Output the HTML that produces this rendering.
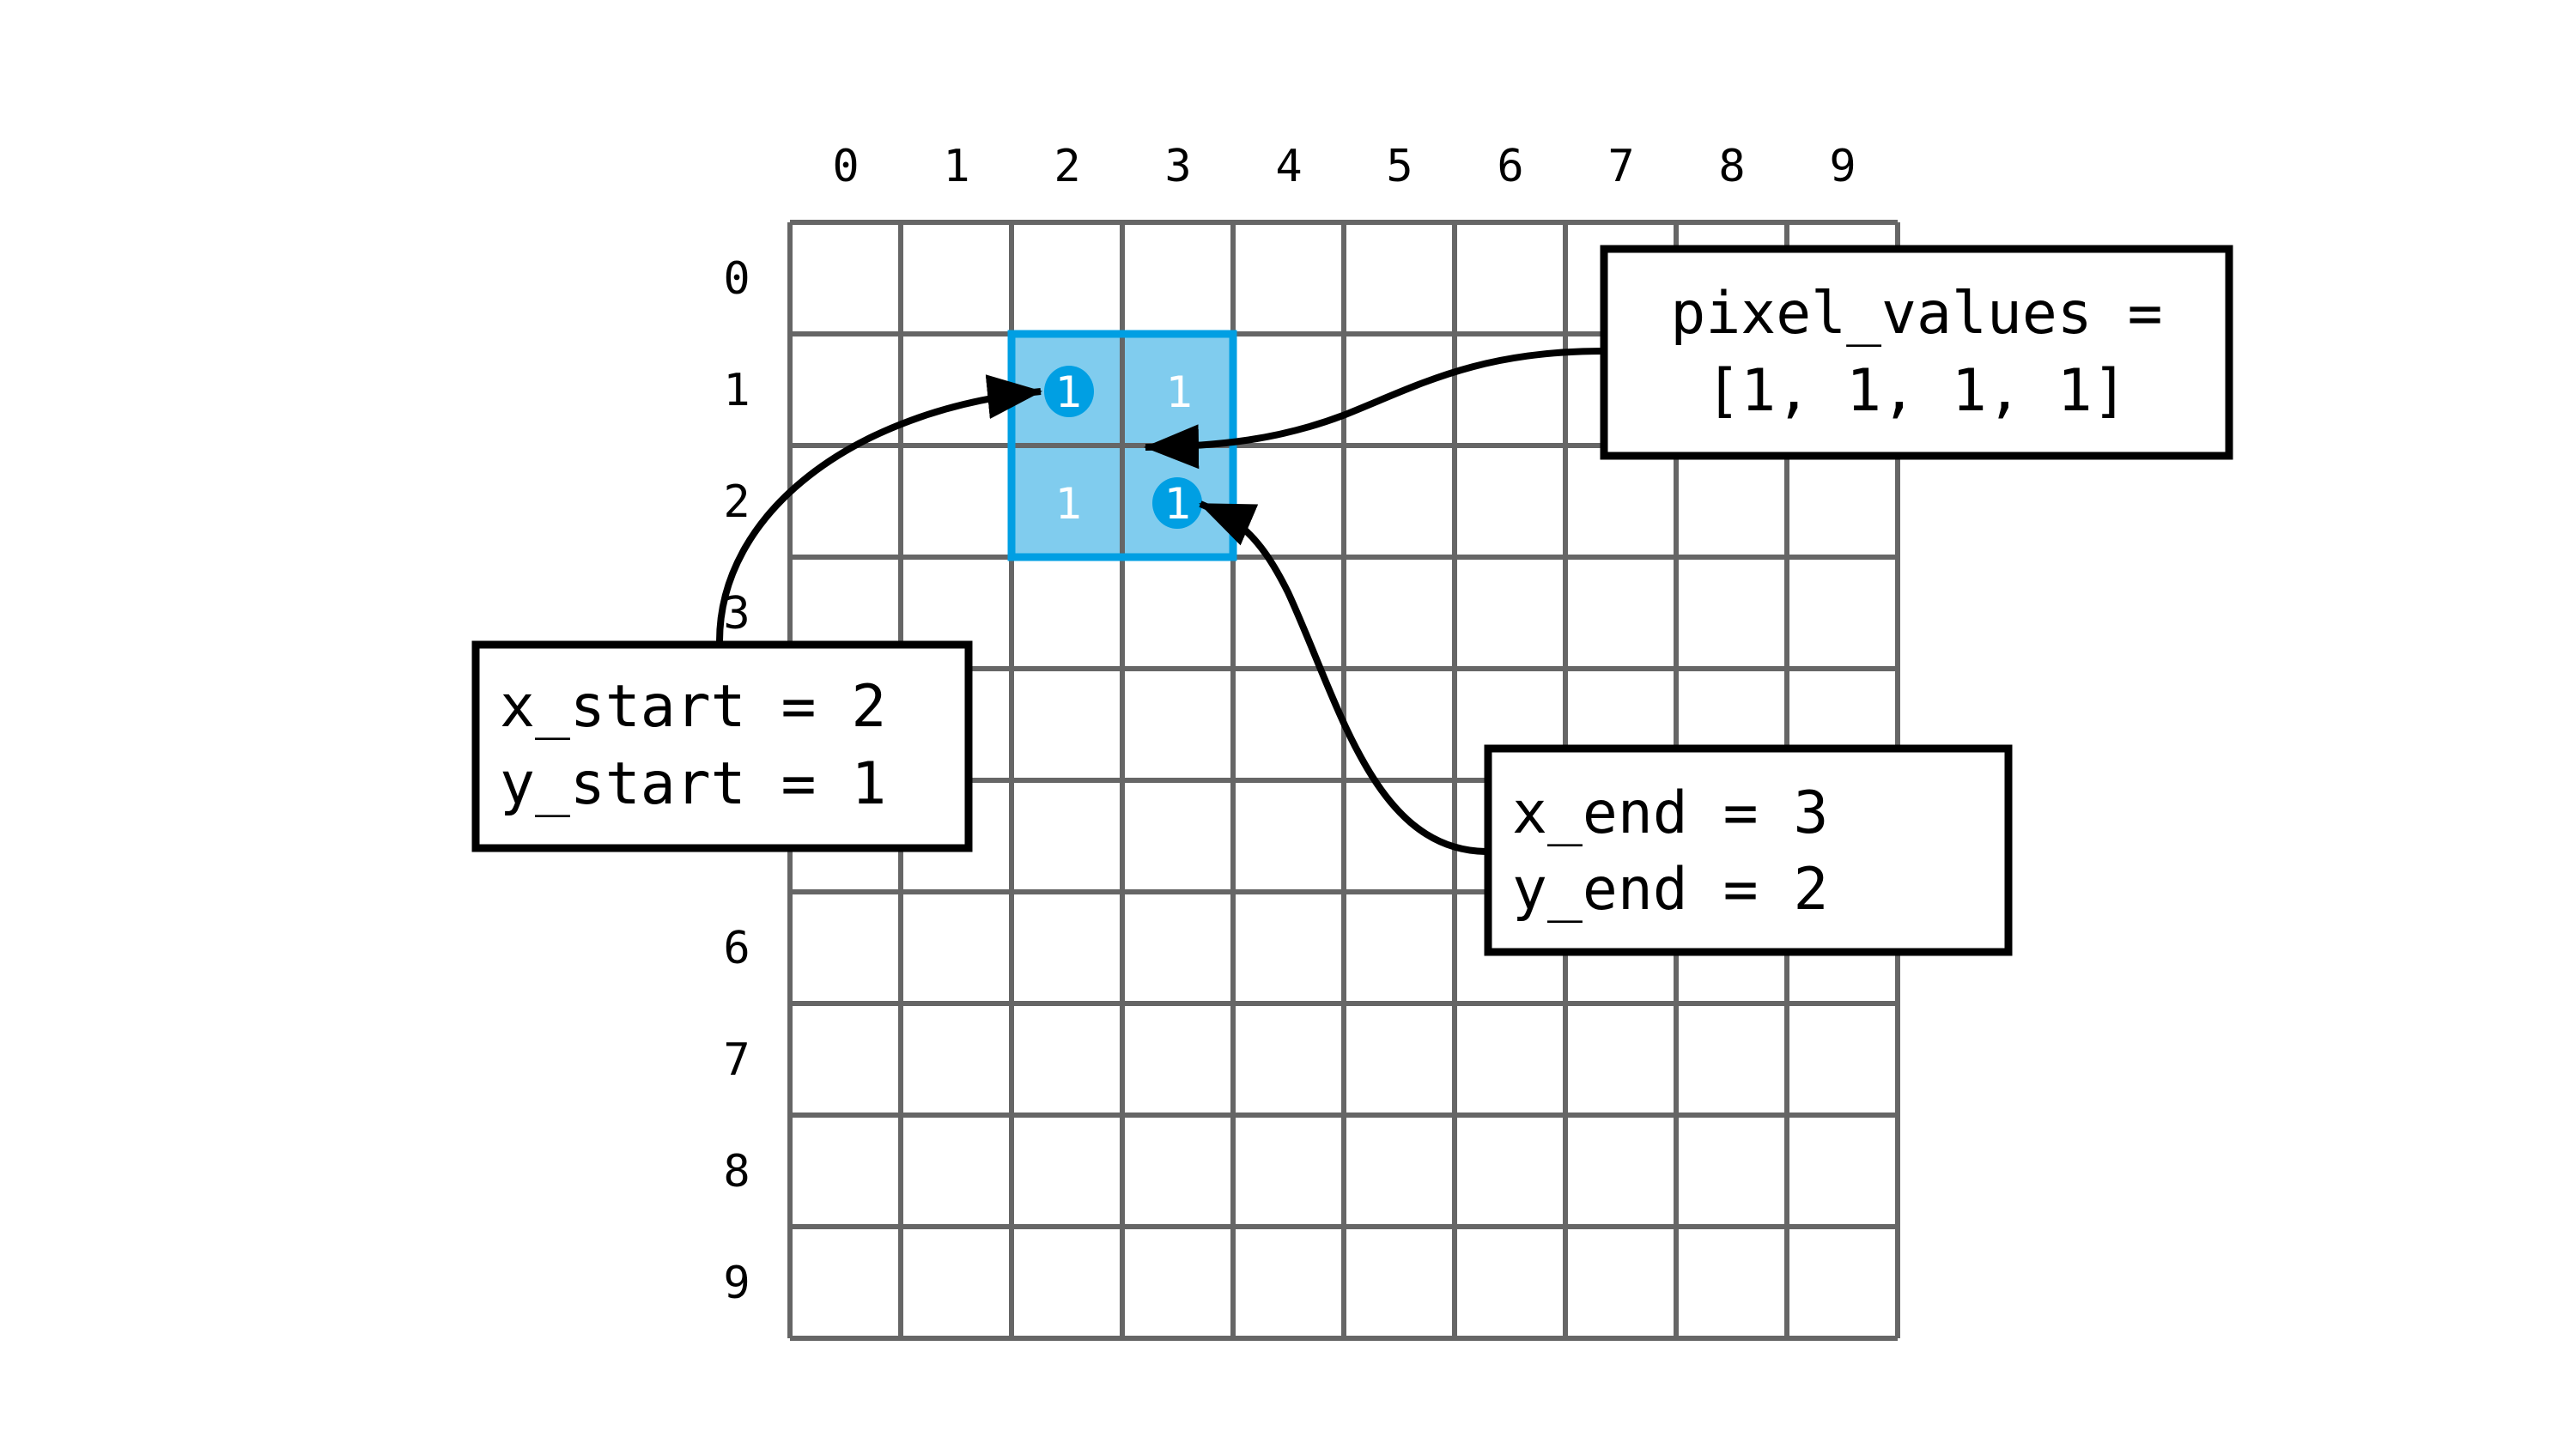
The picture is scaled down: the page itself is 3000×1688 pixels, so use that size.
<!DOCTYPE html>
<html><head><meta charset="utf-8"><style>html,body{margin:0;padding:0;background:#fff}svg{display:block}</style></head>
<body>
<svg width="3000" height="1688" viewBox="0 0 3000 1688" xmlns="http://www.w3.org/2000/svg">
<defs>
<marker id="ah" markerUnits="userSpaceOnUse" markerWidth="70" markerHeight="60" refX="62" refY="26" orient="auto">
<path d="M0,0 L64,26 L0,52 Z" fill="#000"/>
</marker>
</defs>
<rect width="3000" height="1688" fill="#fff"/>
<rect x="1178" y="389" width="258" height="260" fill="#80CCEE"/>
<g stroke="#666" stroke-width="6" fill="none">
<path d="M920,259V1559M1049,259V1559M1178,259V1559M1307,259V1559M1436,259V1559M1565,259V1559M1694,259V1559M1823,259V1559M1952,259V1559M2081,259V1559M2210,259V1559"/>
<path d="M920,259H2210M920,389H2210M920,519H2210M920,649H2210M920,779H2210M920,909H2210M920,1039H2210M920,1169H2210M920,1299H2210M920,1429H2210M920,1559H2210"/>
</g>
<rect x="1178" y="389" width="258" height="260" fill="none" stroke="#009FE3" stroke-width="9"/>
<g font-family="'DejaVu Sans Mono','Liberation Mono',monospace" font-size="52" text-anchor="middle" fill="#000">
<text x="985" y="211">0</text><text x="1114" y="211">1</text><text x="1243" y="211">2</text><text x="1372" y="211">3</text><text x="1501" y="211">4</text><text x="1630" y="211">5</text><text x="1759" y="211">6</text><text x="1888" y="211">7</text><text x="2017" y="211">8</text><text x="2146" y="211">9</text>
<text x="858" y="342">0</text><text x="858" y="472">1</text><text x="858" y="602">2</text><text x="858" y="732">3</text><text x="858" y="862">4</text><text x="858" y="992">5</text><text x="858" y="1122">6</text><text x="858" y="1252">7</text><text x="858" y="1382">8</text><text x="858" y="1512">9</text>
</g>
<ellipse cx="1245" cy="456" rx="29" ry="30" fill="#009FE3"/>
<ellipse cx="1371" cy="586" rx="29" ry="30" fill="#009FE3"/>
<g font-family="'DejaVu Sans','Liberation Sans',sans-serif" font-size="50" text-anchor="middle" fill="#fff">
<text x="1245" y="474">1</text><text x="1374" y="474">1</text><text x="1245" y="604">1</text><text x="1372" y="604">1</text>
</g>
<g stroke="#000" stroke-width="8" fill="none">
<path d="M838,747 C838,600 990,478 1212,456" marker-end="url(#ah)"/>
<path d="M1866,409 C1720,409 1650,450 1564,484 C1490,512 1420,520 1334,521" marker-end="url(#ah)"/>
<path d="M1730,992 C1600,990 1560,820 1500,690 C1465,620 1440,605 1398,587" marker-end="url(#ah)"/>
</g>
<g stroke="#000" stroke-width="9" fill="#fff">
<rect x="1868" y="290" width="728" height="241"/>
<rect x="554" y="751" width="574" height="237"/>
<rect x="1733" y="872" width="606" height="237"/>
</g>
<g font-family="'DejaVu Sans Mono','Liberation Mono',monospace" font-size="68" fill="#000">
<text x="2232" y="388" text-anchor="middle">pixel_values =</text>
<text x="2232" y="478" text-anchor="middle">[1, 1, 1, 1]</text>
<text x="582" y="846">x_start = 2</text>
<text x="582" y="936">y_start = 1</text>
<text x="1761" y="970">x_end = 3</text>
<text x="1761" y="1059">y_end = 2</text>
</g>
</svg>
</body></html>
